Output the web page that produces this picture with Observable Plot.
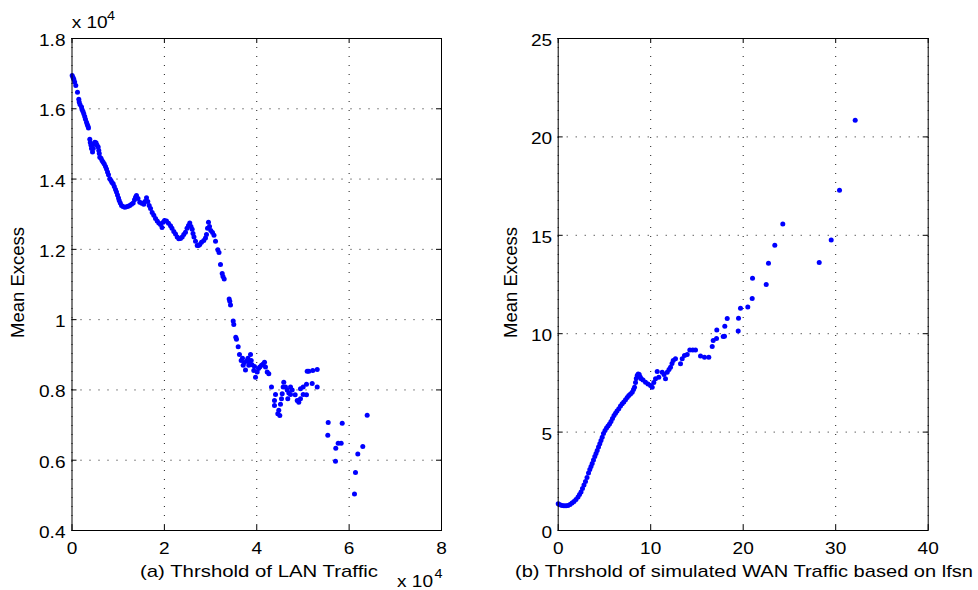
<!DOCTYPE html>
<html><head><meta charset="utf-8">
<script src="https://cdn.jsdelivr.net/npm/d3@7"></script>
<script src="https://cdn.jsdelivr.net/npm/@observablehq/plot@0.6"></script>
<style>
body{margin:0;background:#fff;}
#wrap{display:flex;width:978px;height:590px;}
svg text{font-family:Arial,"Liberation Sans",Helvetica,sans-serif;}
</style></head><body><div id="wrap"></div>
<script>
// (a) LAN traffic: threshold and mean excess, both in units of 10^4
const lanThreshold = [
0.004,0.022,0.039,0.058,0.082,0.119,0.147,0.156,0.173,0.206,
0.217,0.238,0.255,0.275,0.292,0.314,0.331,0.346,0.357,0.385,
0.396,0.411,0.422,0.444,0.461,0.476,0.494,0.520,0.541,0.567,
0.580,0.591,0.602,0.628,0.650,0.675,0.699,0.725,0.747,0.769,
0.790,0.818,0.844,0.866,0.892,0.916,0.942,0.963,0.985,1.007,
1.022,1.046,1.072,1.104,1.143,1.180,1.217,1.251,1.288,1.325,
1.353,1.375,1.396,1.429,1.468,1.511,1.554,1.580,1.613,1.641,
1.671,1.700,1.736,1.771,1.808,1.845,1.879,1.916,1.949,1.974,
2.003,2.046,2.089,2.133,2.165,2.204,2.241,2.278,2.312,2.349,
2.386,2.420,2.457,2.490,2.522,2.550,2.576,2.602,2.620,2.641,
2.674,2.711,2.739,2.767,2.804,2.853,2.890,2.912,2.934,2.955,
2.977,3.005,3.042,3.074,3.107,3.157,3.183,3.215,3.252,3.269,
3.295,3.403,3.416,3.432,3.490,3.503,3.546,3.561,3.598,3.626,
3.663,3.691,3.706,3.735,3.756,3.793,3.810,3.828,3.843,3.865,
3.880,3.897,3.936,3.951,3.973,4.010,4.038,4.066,4.103,4.139,
4.168,4.189,4.226,4.261,4.319,4.384,4.384,4.406,4.456,4.477,
4.499,4.514,4.536,4.551,4.572,4.585,4.622,4.659,4.672,4.694,
4.731,4.767,4.731,4.832,4.876,4.910,4.947,4.947,5.005,5.005,
5.077,5.077,5.092,5.127,5.200,5.213,5.309,5.309,5.547,5.538,
5.711,5.705,5.763,5.828,5.850,6.116,6.138,6.188,6.296,6.391];
const lanMeanExcess = [
1.695,1.689,1.684,1.676,1.666,1.647,1.627,1.619,1.612,1.605,
1.598,1.592,1.586,1.578,1.570,1.562,1.555,1.550,1.545,1.513,
1.504,1.496,1.487,1.477,1.487,1.499,1.505,1.503,1.497,1.491,
1.481,1.473,1.462,1.459,1.453,1.448,1.443,1.436,1.429,1.420,
1.412,1.401,1.396,1.390,1.387,1.379,1.370,1.363,1.355,1.346,
1.339,1.332,1.325,1.322,1.320,1.321,1.323,1.325,1.328,1.332,
1.341,1.348,1.353,1.345,1.334,1.331,1.328,1.336,1.347,1.336,
1.325,1.316,1.305,1.297,1.288,1.281,1.275,1.271,1.262,1.277,
1.282,1.281,1.274,1.267,1.260,1.251,1.244,1.235,1.230,1.231,
1.235,1.242,1.249,1.260,1.268,1.275,1.265,1.257,1.245,1.235,
1.223,1.211,1.211,1.214,1.220,1.225,1.232,1.242,1.260,1.277,
1.265,1.254,1.248,1.240,1.223,1.199,1.191,1.157,1.131,1.123,
1.116,1.059,1.052,1.042,0.996,0.986,0.950,0.944,0.923,0.901,
0.884,0.890,0.870,0.878,0.857,0.884,0.890,0.870,0.878,0.901,
0.884,0.872,0.855,0.867,0.836,0.851,0.861,0.865,0.870,0.874,
0.879,0.865,0.851,0.846,0.808,0.770,0.756,0.787,0.732,0.742,
0.727,0.759,0.775,0.789,0.808,0.822,0.808,0.800,0.775,0.791,
0.808,0.800,0.787,0.786,0.770,0.765,0.775,0.803,0.808,0.787,
0.786,0.816,0.853,0.853,0.818,0.855,0.858,0.808,0.707,0.671,
0.634,0.597,0.648,0.648,0.705,0.504,0.565,0.618,0.639,0.728];

// (b) simulated WAN traffic based on lfsn
const wanThreshold = [
0,0.195,0.411,0.627,0.843,1.059,1.276,1.492,1.708,1.924,
2.141,2.303,2.465,2.627,2.789,2.951,3.114,3.276,3.416,3.546,
3.676,3.816,3.957,4.087,4.216,4.357,4.497,4.627,4.757,4.897,
5.060,5.222,5.384,5.546,5.708,5.870,6.033,6.195,6.357,6.551,
6.735,6.919,7.092,7.276,7.460,7.633,7.816,8.000,8.141,8.249,
8.357,8.443,8.541,8.649,8.757,8.865,8.973,9.168,9.438,9.708,
9.979,10.162,10.335,10.519,10.703,10.876,11.243,11.438,11.600,11.784,
11.979,12.141,12.303,12.433,12.681,13.222,13.406,13.654,13.946,14.227,
14.552,14.844,15.384,15.817,16.281,16.649,16.757,17.114,17.146,17.838,
17.978,18.011,18.271,19.460,19.492,19.708,20.498,20.973,21.006,22.487,
22.735,23.417,24.282,28.217,29.514,30.411,32.109];
const wanMeanExcess = [
1.356,1.305,1.270,1.260,1.260,1.270,1.321,1.397,1.473,1.575,
1.702,1.829,1.955,2.133,2.311,2.489,2.692,2.921,3.098,3.251,
3.403,3.581,3.759,3.911,4.063,4.241,4.404,4.571,4.739,4.927,
5.079,5.206,5.308,5.409,5.536,5.689,5.841,5.958,6.070,6.181,
6.324,6.435,6.527,6.639,6.755,6.857,6.933,7.025,7.162,7.279,
7.517,7.720,7.873,7.949,7.924,7.797,7.705,7.644,7.532,7.441,
7.365,7.279,7.517,7.705,8.076,7.786,8.040,7.924,7.705,8.040,
8.178,8.294,8.482,8.635,8.721,8.467,8.721,8.889,8.939,9.178,
9.178,9.178,8.863,8.802,8.802,9.346,9.650,9.752,10.194,9.854,
9.869,10.377,10.768,10.143,10.783,11.291,11.362,11.784,12.815,12.495,
13.577,14.491,15.578,13.612,14.765,17.285,20.840];

const lanXTicks = [0, 2, 4, 6, 8];
const lanYTicks = [0.4, 0.6, 0.8, 1, 1.2, 1.4, 1.6, 1.8];
const wanXTicks = [0, 10, 20, 30, 40];
const wanYTicks = [0, 5, 10, 15, 20, 25];
const lanXLabel = "(a) Thrshold of LAN Traffic";
const wanXLabel = "(b) Thrshold of simulated WAN Traffic based on lfsn";
const yLabel = "Mean Excess";
const exponentLabel = "x 10";
const exponentPower = "4";

const H = 590, MT = 38, MB = 60;
const FONT = "Arial, 'Liberation Sans', sans-serif";

function panel(o) {
  const plotW = o.width - o.marginLeft - o.marginRight;
  const plotH = H - MT - MB;
  const data = o.xs.map((x, i) => ({x, y: o.ys[i]}));
  const grid = {stroke: "#000", strokeOpacity: 0.9, strokeWidth: 1, strokeDasharray: "1,8"};
  return Plot.plot({
    width: o.width, height: H,
    marginLeft: o.marginLeft, marginRight: o.marginRight, marginTop: MT, marginBottom: MB,
    style: {fontSize: "17px", fontFamily: FONT, color: "#000", background: "#fff", overflow: "visible"},
    x: {domain: o.xDomain},
    y: {domain: o.yDomain},
    marks: [
      Plot.gridX(o.xTicks, grid),
      Plot.gridY(o.yTicks, grid),
      Plot.dot(data, {x: "x", y: "y", r: 2.5, fill: "#0000ff", stroke: null}),
      Plot.ruleX(o.xTicks, {insetTop: plotH - 5, stroke: "#000"}),
      Plot.ruleX(o.xTicks, {insetBottom: plotH - 5, stroke: "#000"}),
      Plot.ruleY(o.yTicks, {insetRight: plotW - 5, stroke: "#000"}),
      Plot.ruleY(o.yTicks, {insetLeft: plotW - 5, stroke: "#000"}),
      Plot.frame({stroke: "#000", strokeWidth: 1}),
      Plot.axisX(o.xTicks, {tickSize: 0, tickPadding: 11, label: null, tickFormat: d => String(d)}),
      Plot.axisY(o.yTicks, {tickSize: 0, tickPadding: o.yPad, label: null, tickFormat: d => String(d), dy: 2})
    ]
  });
}

function addText(svg, txt, attrs) {
  const t = d3.select(svg).append("text").text(txt)
    .attr("fill", "#000").attr("text-anchor", "start").style("font-family", FONT);
  for (const k in attrs) t.attr(k, attrs[k]);
  return t;
}

function stretchTicks(svg, f) {
  svg.querySelectorAll("text").forEach(t => {
    const L = t.getComputedTextLength();
    if (L > 0) { t.setAttribute("textLength", (L * f).toFixed(2)); t.setAttribute("lengthAdjust", "spacingAndGlyphs"); }
  });
}

const wrap = document.getElementById("wrap");

const left = panel({
  xs: lanThreshold, ys: lanMeanExcess, xDomain: [0, 8], yDomain: [0.4, 1.8],
  xTicks: lanXTicks, yTicks: lanYTicks, width: 489, marginLeft: 71.5, marginRight: 48, yPad: 6.5
});
wrap.appendChild(left);
stretchTicks(left, 1.12);
addText(left, lanXLabel, {x: 259, y: 577, "text-anchor": "middle", "font-size": 17, textLength: 238, lengthAdjust: "spacingAndGlyphs"});
addText(left, yLabel, {transform: "translate(24,282.5) rotate(-90)", "text-anchor": "middle", "font-size": 17.5, textLength: 111, lengthAdjust: "spacingAndGlyphs"});
addText(left, exponentLabel, {x: 71.7, y: 28.3, "font-size": 17, textLength: 36, lengthAdjust: "spacingAndGlyphs"});
addText(left, exponentPower, {x: 107, y: 20, "font-size": 12.5, textLength: 8, lengthAdjust: "spacingAndGlyphs"});
addText(left, exponentLabel, {x: 397, y: 587, "font-size": 17, textLength: 36, lengthAdjust: "spacingAndGlyphs"});
addText(left, exponentPower, {x: 434.5, y: 577.5, "font-size": 12.5, textLength: 8, lengthAdjust: "spacingAndGlyphs"});

const right = panel({
  xs: wanThreshold, ys: wanMeanExcess, xDomain: [0, 40], yDomain: [0, 25],
  xTicks: wanXTicks, yTicks: wanYTicks, width: 489, marginLeft: 68.7, marginRight: 50.3, yPad: 6
});
wrap.appendChild(right);
stretchTicks(right, 1.12);
addText(right, wanXLabel, {x: 255, y: 577, "text-anchor": "middle", "font-size": 17, textLength: 458, lengthAdjust: "spacingAndGlyphs"});
addText(right, yLabel, {transform: "translate(28,282.5) rotate(-90)", "text-anchor": "middle", "font-size": 17.5, textLength: 111, lengthAdjust: "spacingAndGlyphs"});
</script></body></html>
